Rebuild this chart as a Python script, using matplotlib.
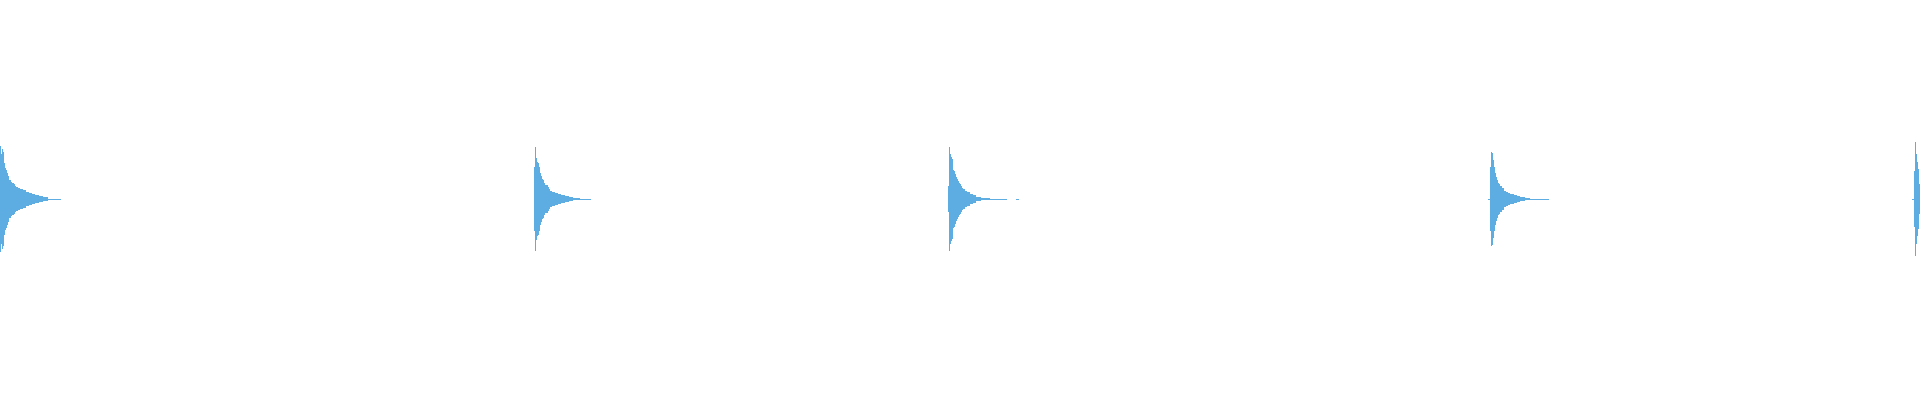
import numpy as np
import matplotlib
matplotlib.use('Agg')
import matplotlib.pyplot as plt

# peak level of each pixel column, in px above the centre line (full scale = 200)
burst_starts = [0, 534, 948, 1488, 1912]

burst1 = [53, 45, 50, 47, 36, 31, 29, 26, 23, 19, 19, 17, 16, 16, 15, 13, 12, 12,
          11, 11, 10, 10, 10, 9, 9, 9, 7, 7, 7, 6, 6, 6, 5, 5, 5, 4, 4, 4, 4,
          3, 3, 3, 3, 2, 2, 2, 2, 2,
          0.5, 0.5, 0.5, 0.5, 0.5, 0.5, 0.5, 0.5, 0.5, 0.5, 0.5, 0.5, 0.5]
burst2 = [32, 52, 41, 37, 36, 32, 26, 23, 20, 19, 16, 14, 14, 14, 12, 10, 8, 8,
          7, 7, 7, 6, 6, 6, 5, 5, 5, 4, 4, 4, 4, 3, 3, 3, 3, 2, 2, 2, 2,
          1, 1, 1, 1, 1, 1, 1,
          0.5, 0.5, 0.5, 0.5, 0.5, 0.5, 0.5, 0.5, 0.5, 0.5, 0.5]
burst3 = [13, 52, 45, 42, 40, 29, 28, 25, 22, 20, 18, 16, 15, 13, 11, 10, 10, 8,
          8, 7, 7, 7, 5, 5, 5, 4, 4, 4, 2, 2, 2, 2, 2,
          1, 1, 1, 1, 1, 1, 1, 1, 1,
          0.5, 0.5, 0.5, 0.5, 0.5, 0.5, 0.5, 0.5, 0.5, 0.5, 0.5, 0.5, 0.5, 0.5,
          0.5, 0.5, 0.5,
          0, 0, 0, 0, 0, 0, 0, 0, 0,
          0.5, 0.5, 0.5]
burst4 = [0.5, 0.5, 32, 47, 46, 39, 32, 26, 22, 19, 16, 15, 13, 13, 11, 11, 8, 8,
          7, 7, 6, 6, 5, 5, 5, 5, 4, 4, 4, 3, 3, 3, 2, 2, 2, 2, 2,
          1, 1, 1, 1, 1,
          0.5, 0.5, 0.5, 0.5, 0.5, 0.5, 0.5, 0.5, 0.5, 0.5, 0.5, 0.5, 0.5, 0.5,
          0.5, 0.5, 0.5, 0.5, 0.5]
burst5 = [0.5, 0.5, 28, 57, 45, 37, 30, 15]

bursts = [burst1, burst2, burst3, burst4, burst5]

fig = plt.figure(figsize=[19.2, 4], dpi=100)
ax = fig.add_axes([0, 0, 1, 1])

for start, env in zip(burst_starts, bursts):
    a = np.array(env) / 200.0
    x = start + np.arange(len(a))
    ax.bar(x, 2 * a, bottom=-a + 0.005, width=1, align='edge',
           color='#5DADE2', linewidth=0)

ax.set_xlim(0, 1920)
ax.set_ylim(-1, 1)
ax.axis('off')

fig.savefig('out.png', dpi=100, facecolor='white')
